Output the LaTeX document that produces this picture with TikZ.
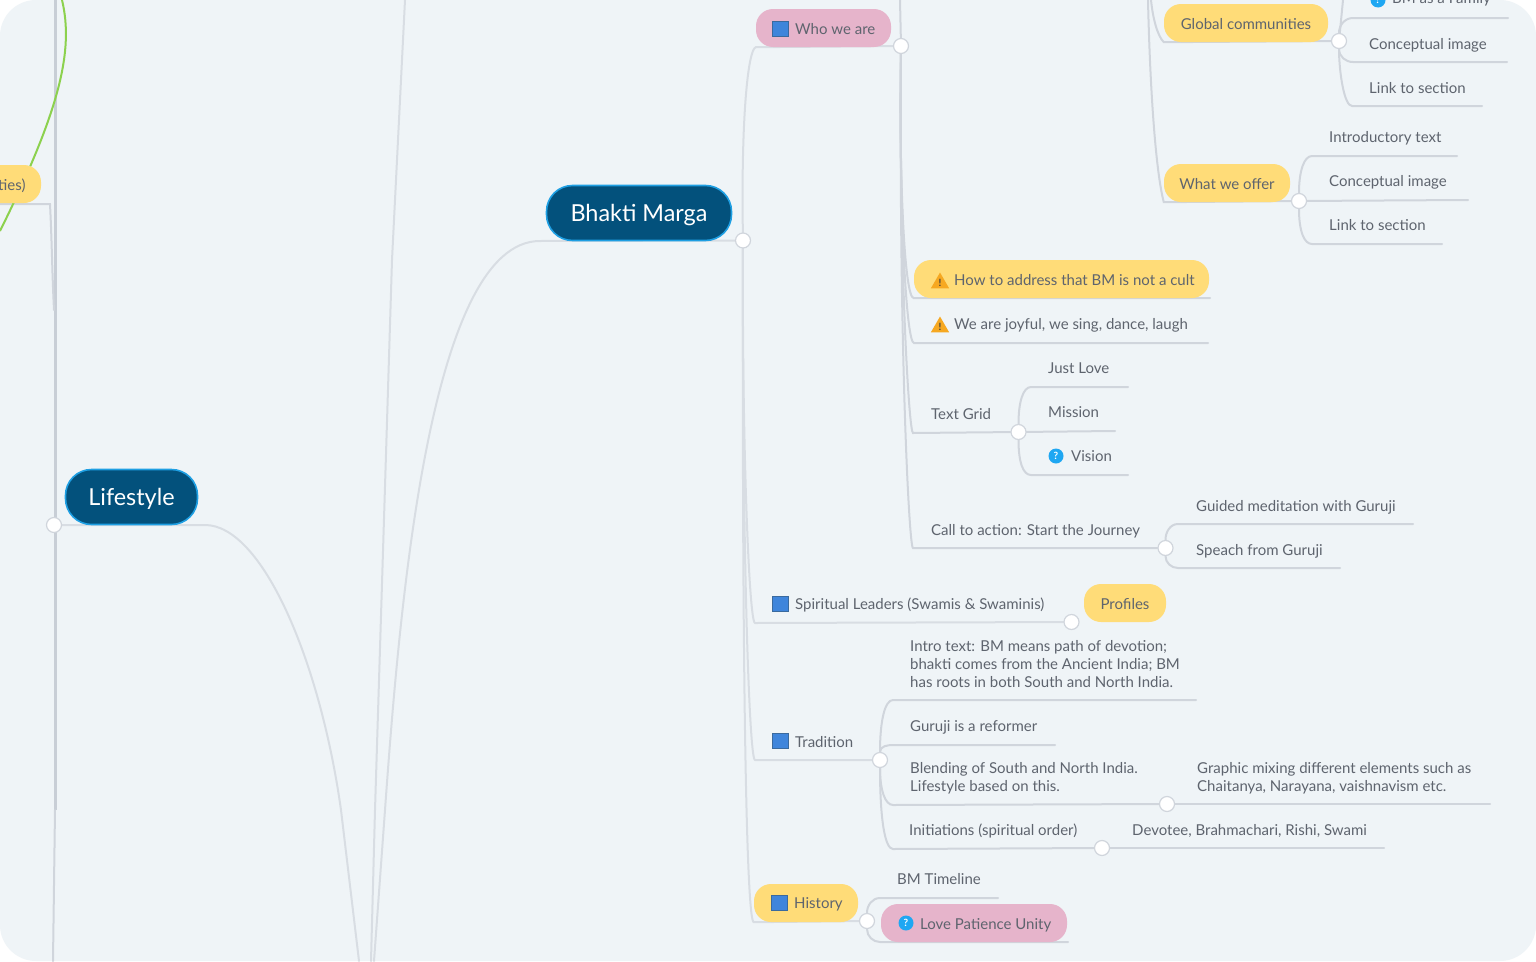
\documentclass[tikz,border=0pt]{standalone}
\usepackage{fontspec}
\setmainfont{Lato}
\usetikzlibrary{shapes.geometric,calc}
\pgfdeclarelayer{bgl}\pgfdeclarelayer{connl}\pgfsetlayers{bgl,connl,main}
\definecolor{bgc}{HTML}{EFF4F7}
\definecolor{linec}{HTML}{D0D5DC}
\definecolor{linel}{HTML}{D8DDE3}
\definecolor{lineh}{HTML}{C8CED6}
\definecolor{txtc}{HTML}{5E646E}
\definecolor{yel}{HTML}{FFDC78}
\definecolor{pnk}{HTML}{E6B4CB}
\definecolor{navy}{HTML}{03517C}
\definecolor{sky}{HTML}{1E9FE3}
\definecolor{grn}{HTML}{8CD14E}
\definecolor{bookf}{HTML}{3F85DB}
\definecolor{bookd}{HTML}{3A6A9E}
\definecolor{qblue}{HTML}{1FA7F2}
\definecolor{warnc}{HTML}{F6A821}
\tikzset{
 x=1pt,y=-1pt,
 txt/.style={anchor=base west,inner sep=0,text=txtc,font=\fontsize{15}{18}\selectfont},
 mtxt/.style={anchor=west,inner sep=0,text=txtc,align=left,font=\fontsize{15}{18}\selectfont},
 pill/.style={rectangle,rounded corners=17pt,inner sep=0,minimum height=38pt,text=txtc,font=\fontsize{15}{18}\selectfont,text height=13pt,text depth=0pt},
 ypill/.style={pill,fill=yel},
 ppill/.style={pill,fill=pnk},
 root/.style={rectangle,rounded corners=26pt,inner sep=0,minimum height=55pt,fill=navy,draw=sky,line width=1.6pt,text=white,font=\fontsize{23.4}{28}\selectfont,text height=20pt,text depth=4pt},
 conn/.style={draw=linec,line width=2pt,line cap=round},
 fine/.style={draw=linel,line width=2pt,line cap=round},
 heavy/.style={draw=lineh,line width=3pt},
 junc/.style={circle,fill=white,draw=linec,line width=1.2pt,minimum size=15pt,inner sep=0},
 book/.style={rectangle,fill=bookf,draw=bookd,line width=1.2pt,minimum size=15.5pt,inner sep=0},
 qmark/.style={circle,fill=qblue,text=white,minimum size=15pt,inner sep=0,font=\bfseries\fontsize{10}{10}\selectfont},
 warn/.style={regular polygon,regular polygon sides=3,fill=warnc,text=black!75,minimum size=21pt,inner sep=0,font=\bfseries\fontsize{10}{10}\selectfont},
}
\begin{document}
\begin{tikzpicture}
\useasboundingbox (0,0) rectangle (1536,961);
\begin{pgfonlayer}{bgl}
\fill[white] (0,0) rectangle (1536,961);
\fill[bgc,rounded corners=36pt] (0,0) rectangle (1536,961);
\end{pgfonlayer}

% root topics
\node[root,minimum width=185pt] (bhakti) at (639,213) {Bhakti Marga};
\node[root,minimum width=132pt] (life) at (131.5,497) {Lifestyle};

% pills
\node[ypill,minimum width=82pt] (ties) at (0,184) {};
\node[txt] (tiest) at (-2,190) {ties)};
\node[ppill,minimum width=135pt] (who) at (823.5,28) {};
\node[ypill,minimum width=164pt] (glob) at (1246,23) {Global communities};
\node[ypill,minimum width=126pt] (offer) at (1227,183) {What we offer};
\node[ypill,minimum width=295pt] (how) at (1061.5,279) {};
\node[ypill,minimum width=82pt] (prof) at (1125,603) {Profiles};
\node[ypill,minimum width=104pt] (hist) at (806,903) {};
\node[ppill,minimum width=186pt] (love) at (974,923) {};

% icons
\node[book] (iwho) at (780.5,29) {};
\node[book] (ispi) at (780.5,604) {};
\node[book] (itra) at (780.5,741) {};
\node[book] (ihis) at (779.5,903) {};
\node[warn] (iw1) at (940,283) {!};
\node[warn] (iw2) at (940,327) {!};
\node[qmark] (iq1) at (1056,456) {?};
\node[qmark] (iq2) at (906,923) {?};
\node[qmark] (iq3) at (1378,0) {?};

% texts
\node[txt] (twho) at (795,34) {Who we are};
\node[txt] (tfam) at (1392,4) {BM as a Family};
\node[txt] (tc1) at (1369,49) {Conceptual image};
\node[txt] (tl1) at (1369,93) {Link to section};
\node[txt] (tin) at (1329,142) {Introductory text};
\node[txt] (tc2) at (1329,186) {Conceptual image};
\node[txt] (tl2) at (1329,230) {Link to section};
\node[txt] (thow) at (954,285) {How to address that BM is not a cult};
\node[txt] (tjoy) at (954,329) {We are joyful, we sing, dance, laugh};
\node[txt] (tjl) at (1048,373) {Just Love};
\node[txt] (tgrid) at (931,419) {Text Grid};
\node[txt] (tmis) at (1048,417) {Mission};
\node[txt] (tvis) at (1071,461) {Vision};
\node[txt] (tgui) at (1196,511) {Guided meditation with Guruji};
\node[txt] (tcall) at (931,535) {Call to action: Start the Journey};
\node[txt] (tspe) at (1196,555) {Speach from Guruji};
\node[txt] (tspi) at (795,609) {Spiritual Leaders (Swamis \& Swaminis)};
\node[mtxt] (tint) at (910,664) {Intro text: BM means path of devotion;\\bhakti comes from the Ancient India; BM\\has roots in both South and North India.};
\node[txt] (tref) at (910,731) {Guruji is a reformer};
\node[txt] (ttra) at (795,747) {Tradition};
\node[mtxt] (tble) at (910,778) {Blending of South and North India.\\Lifestyle based on this.};
\node[mtxt] (tgra) at (1197,778) {Graphic mixing different elements such as\\Chaitanya, Narayana, vaishnavism etc.};
\node[txt] (tini) at (909,835) {Initiations (spiritual order)};
\node[txt] (tdev) at (1132,835) {Devotee, Brahmachari, Rishi, Swami};
\node[txt] (ttim) at (897,884) {BM Timeline};
\node[txt] (this) at (794,908) {History};
\node[txt] (tlov) at (920,929) {Love Patience Unity};

% junctions
\node[junc] (jb) at (743,240.5) {};
\node[junc] (jl) at (54,525) {};
\node[junc] (jw) at (901,46) {};
\node[junc] (jg) at (1339,41) {};
\node[junc] (jo) at (1299,201) {};
\node[junc] (jt) at (1018.5,432) {};
\node[junc] (jc) at (1165.5,548) {};
\node[junc] (js) at (1071.5,622) {};
\node[junc] (jr) at (880,760) {};
\node[junc] (jbl) at (1167,804) {};
\node[junc] (jin) at (1102,848) {};
\node[junc] (jh) at (867,921) {};

% free ends
\coordinate (gtop) at (1151,0);
\coordinate (otop) at (1148,0);
\coordinate (wtop) at (900,0);
\coordinate (vtop) at (55,0);
\coordinate (vmid) at (55,810);
\coordinate (vbot) at (53,961);
\coordinate (lm) at (341,810);
\coordinate (lb) at (359,961);
\coordinate (ltop) at (405,0);
\coordinate (lmm) at (375,810);
\coordinate (lbb) at (371,961);
\coordinate (bm) at (385,810);
\coordinate (bb) at (374,961);
\coordinate (tsl) at (0,204);
\coordinate (tsr) at (50,204);
\coordinate (tse) at (54,310);
\coordinate (g0) at (62,0);
\coordinate (g1) at (0,231);

\begin{pgfonlayer}{connl}
% left column
\draw[heavy] (vtop) -- (vmid);
\draw[conn] (vmid) -- (vbot);
\draw[conn] (tsl) -- (tsr) .. controls +(2,40) and +(-2,-40) .. (tse);
\draw[draw=grn,line width=2pt] (g0) .. controls (74,50) and (60,110) .. (g1);
% main trunks
\draw[fine] (jl) -- (205,525) coordinate (ls) .. controls (262,525) and (320,660) .. (lm) -- (lb);
\draw[fine] (ltop) -- (392,260) -- (lmm) -- (lbb);
\draw[fine] (jb) -- (540,241) coordinate (bs) .. controls (430,241) and (400,600) .. (bm) -- (bb);
% Bhakti Marga children
\draw[fine] (jb) .. controls +(-2,-120) and +(-8,2) .. (who.south west) -- (jw);
\draw[fine] (jb) .. controls +(-1,200) and +(-6,0) .. (755,623) coordinate (sb) -- (js);
\draw[fine] (jb) .. controls +(-1,300) and +(-6,0) .. (755,760) coordinate (tb) -- (jr);
\draw[fine] (jb) .. controls +(-1,400) and +(-8,0) .. (hist.south west) -- (jh);
% Who we are children
\draw[conn] (wtop) -- (jw);
\draw[conn] (jw) .. controls +(-2,120) and +(-10,0) .. (how.south west) -- (1210,298) coordinate (how2);
\draw[conn] (jw) .. controls +(-2,160) and +(-8,0) .. (914,343) coordinate (joyb) -- (1208,343) coordinate (joye);
\draw[conn] (jw) .. controls +(-2,220) and +(-4,0) .. (913,433) coordinate (gb) -- (jt);
\draw[conn] (jw) .. controls +(-2,300) and +(-4,0) .. (913,548) coordinate (cb) -- (jc);
\draw[conn] (gtop) .. controls +(2,20) and +(-6,-6) .. (glob.south west) -- (jg);
\draw[conn] (otop) .. controls +(2,90) and +(-8,-30) .. (offer.south west) -- (jo);
% Global communities
\draw[conn] (jg) to[out=90,in=180] (1353,18) coordinate (a1) -- (1508,18) coordinate (a2);
\draw[conn] (jg) to[out=-90,in=180] (1353,62) coordinate (a3) -- (1507,62) coordinate (a4);
\draw[conn] (jg) .. controls +(0,30) and +(-8,0) .. (1352,106) coordinate (a5) -- (1482,106) coordinate (a6);
\draw[conn] (jg) -- (1343,0);
% What we offer
\draw[conn] (jo) .. controls +(0,-30) and +(-8,0) .. (1312,156) coordinate (b1) -- (1457,156) coordinate (b2);
\draw[conn] (jo) -- (1468,200) coordinate (b3);
\draw[conn] (jo) .. controls +(0,30) and +(-8,0) .. (1312,244) coordinate (b4) -- (1442,244) coordinate (b5);
% Text Grid
\draw[conn] (jt) .. controls +(0,-30) and +(-8,0) .. (1031,387) coordinate (c1) -- (1128,387) coordinate (c2);
\draw[conn] (jt) -- (1115,431) coordinate (c3);
\draw[conn] (jt) .. controls +(0,30) and +(-8,0) .. (1031,475) coordinate (c4) -- (1128,475) coordinate (c5);
% Call to action
\draw[conn] (jc) to[out=90,in=180] (1178,524) coordinate (d1) -- (1413,524) coordinate (d2);
\draw[conn] (jc) to[out=-90,in=180] (1178,568) coordinate (d3) -- (1340,568) coordinate (d4);
% Tradition
\draw[conn] (jr) .. controls +(0,-40) and +(-8,0) .. (893,700) coordinate (e1) -- (1196,700) coordinate (e2);
\draw[conn] (jr) to[out=90,in=180] (893,745) coordinate (e3) -- (1055,745) coordinate (e4);
\draw[conn] (jr) .. controls +(0,30) and +(-8,0) .. (893,805) coordinate (e5) -- (jbl);
\draw[conn] (jr) .. controls +(0,60) and +(-8,0) .. (893,849) coordinate (e6) -- (jin);
\draw[conn] (jbl) -- (1490,804) coordinate (e7);
\draw[conn] (jin) -- (1384,848) coordinate (e8);
% History
\draw[conn] (jh) to[out=90,in=180] (880,898) coordinate (f1) -- (998,898) coordinate (f2);
\draw[conn] (jh) to[out=-90,in=180] (880,942) coordinate (f3) -- (1068,942) coordinate (f4);
\end{pgfonlayer}
\end{tikzpicture}
\end{document}
